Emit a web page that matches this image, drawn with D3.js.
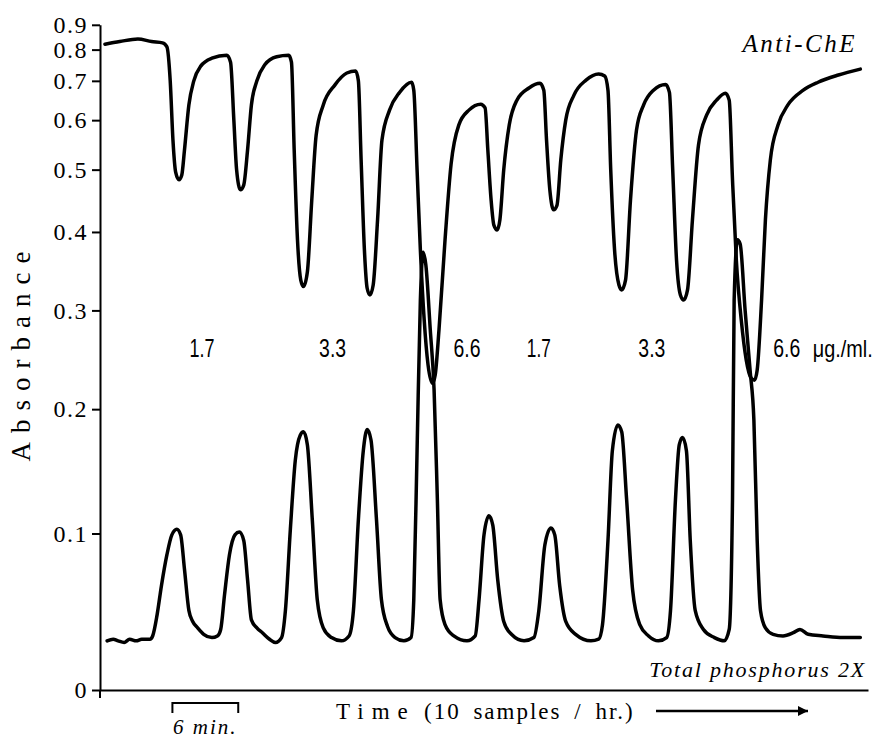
<!DOCTYPE html>
<html>
<head>
<meta charset="utf-8">
<script src="https://cdn.jsdelivr.net/npm/d3@7"></script>
<style>
body { margin: 0; background: #fff; }
svg { display: block; }
</style>
</head>
<body>
<div id="chart"></div>
<script>
var width = 890,
    height = 740;

// [time (min), absorbance]
var antiChE = [
  [0.45,0.82],[1.8,0.83],[3.45,0.84],[4.7,0.83],[5.7,0.825],[6.1,0.81],[6.4,0.70],[6.65,0.557],
  [6.9,0.495],[7.2,0.482],[7.45,0.49],[7.7,0.537],[8.1,0.636],[8.55,0.70],[9.2,0.745],[10.2,0.77],
  [11.55,0.78],[11.9,0.757],[12.2,0.60],[12.45,0.50],[12.8,0.465],[13.1,0.473],[13.45,0.537],
  [13.8,0.636],[14.3,0.70],[15,0.748],[16.1,0.775],[17.2,0.78],[17.45,0.757],[17.7,0.537],
  [18,0.389],[18.3,0.336],[18.55,0.328],[18.9,0.346],[19.3,0.448],[19.7,0.567],[20.35,0.636],
  [21.4,0.688],[22.5,0.723],[23.3,0.729],[23.55,0.70],[23.8,0.518],[24.1,0.375],[24.35,0.326],
  [24.6,0.318],[24.9,0.33],[25.3,0.418],[25.7,0.557],[26.4,0.624],[27.3,0.668],[28.4,0.696],
  [28.6,0.674],[28.9,0.50],[29.2,0.375],[29.55,0.289],[29.9,0.242],[30.3,0.224],[30.55,0.232],
  [30.9,0.279],[31.45,0.389],[32,0.51],[32.7,0.589],[33.65,0.624],[34.7,0.638],[35.1,0.629],
  [35.35,0.537],[35.65,0.448],[35.9,0.41],[36.2,0.403],[36.45,0.418],[36.8,0.50],[37.3,0.589],
  [38,0.648],[39.1,0.68],[40.1,0.693],[40.45,0.674],[40.7,0.557],[41,0.465],[41.35,0.433],
  [41.65,0.44],[42,0.518],[42.45,0.60],[43.2,0.661],[44.3,0.702],[45.45,0.72],[46,0.714],
  [46.3,0.674],[46.55,0.50],[46.9,0.375],[47.3,0.33],[47.55,0.324],[47.9,0.336],[48.35,0.448],
  [48.9,0.578],[49.55,0.636],[50.45,0.674],[51.55,0.69],[51.9,0.668],[52.2,0.50],[52.55,0.361],
  [52.9,0.318],[53.2,0.312],[53.55,0.324],[54,0.418],[54.55,0.547],[55.3,0.612],[56.2,0.648],
  [57,0.666],[57.35,0.648],[57.65,0.482],[58,0.361],[58.45,0.289],[58.9,0.247],[59.35,0.229],
  [59.65,0.227],[59.9,0.237],[60.3,0.312],[60.65,0.418],[61.1,0.518],[61.8,0.589],[62.7,0.636],
  [64.1,0.674],[65.45,0.696],[67.3,0.717],[69.3,0.735]
];

var phosphorus = [
  [0.65,0.029],[1.2,0.030],[1.65,0.029],[2.2,0.028],[2.7,0.030],[3.3,0.029],[3.8,0.030],[4.55,0.030],
  [4.8,0.032],[5.2,0.045],[5.6,0.064],[6.1,0.085],[6.55,0.099],[7,0.103],[7.35,0.099],[7.7,0.075],
  [8.1,0.048],[8.45,0.041],[8.9,0.037],[9.45,0.033],[10.2,0.031],[10.7,0.032],[11,0.036],[11.35,0.058],
  [11.8,0.085],[12.3,0.099],[12.7,0.101],[13.1,0.095],[13.45,0.068],[13.8,0.042],[14.3,0.037],
  [14.8,0.034],[15.45,0.030],[16,0.028],[16.55,0.031],[16.9,0.048],[17.35,0.103],[17.8,0.156],
  [18.25,0.177],[18.55,0.18],[18.9,0.169],[19.35,0.110],[19.8,0.055],[20.35,0.037],[21.1,0.031],
  [22,0.029],[22.7,0.032],[23.1,0.048],[23.55,0.110],[24,0.164],[24.35,0.182],[24.7,0.173],
  [25.2,0.110],[25.65,0.055],[26.2,0.038],[26.9,0.031],[27.7,0.029],[28.35,0.031],[28.6,0.055],
  [28.9,0.164],[29.2,0.312],[29.45,0.372],[29.7,0.355],[30.1,0.279],[30.45,0.218],[30.75,0.125],
  [31,0.055],[31.45,0.039],[32.25,0.032],[33.45,0.029],[34.2,0.032],[34.55,0.055],[35,0.099],
  [35.45,0.113],[35.8,0.106],[36.25,0.068],[36.8,0.041],[37.5,0.033],[38.65,0.029],[39.55,0.031],
  [40,0.048],[40.55,0.092],[41.1,0.104],[41.45,0.099],[41.9,0.064],[42.45,0.041],[43.35,0.033],
  [44.75,0.029],[45.45,0.030],[45.8,0.039],[46.3,0.095],[46.7,0.164],[47.2,0.186],[47.55,0.18],
  [48,0.125],[48.55,0.061],[49.2,0.039],[50,0.032],[50.9,0.029],[51.65,0.031],[52,0.048],
  [52.45,0.125],[52.8,0.169],[53.1,0.175],[53.45,0.164],[53.8,0.095],[54.25,0.048],[55,0.036],
  [56,0.031],[56.9,0.029],[57.35,0.036],[57.65,0.125],[57.8,0.312],[58.1,0.389],[58.35,0.383],
  [58.8,0.30],[59.25,0.237],[59.6,0.19],[59.9,0.095],[60.2,0.048],[60.65,0.037],[61.35,0.033],
  [62.25,0.032],[63.2,0.034],[63.8,0.036],[64.55,0.033],[65.9,0.032],[67.7,0.031],[69.3,0.031]
];

var yTicks = [0, 0.1, 0.2, 0.3, 0.4, 0.5, 0.6, 0.7, 0.8, 0.9];

// dose labels (µg/ml) and the time they sit at
var doseLabels = ["1.7", "3.3", "6.6", "1.7", "3.3", "6.6"];
var doseTimes = [9.3, 21.2, 33.45, 40, 50.3, 62.6];
var doseWidths = [25, 27, 27, 24, 27, 27];
var labelAbs = 0.25;

var scaleBarStart = 6.6,
    scaleBarMinutes = 6;

var serif = "'Liberation Serif', 'DejaVu Serif', serif";
var sans = "'Liberation Sans', Arial, sans-serif";

var svg = d3.select("#chart")
    .append("svg")
    .attr("width", width)
    .attr("height", height)
    .style("background", "#fff");

var x = d3.scaleLinear().domain([0, 70]).range([100, 868]);

// absorbance axis is linear in transmittance (A = -log10 T)
var tScale = d3.scaleLinear().domain([1, 0]).range([690, 690 - 761]);
var absGrid = d3.range(0, 0.9001, 0.005);
var y = d3.scaleLinear()
    .domain(absGrid)
    .range(absGrid.map(function(a) { return tScale(Math.pow(10, -a)); }));

// y axis
var yAxis = svg.append("g")
    .attr("transform", "translate(100,0)")
    .call(d3.axisLeft(y)
        .tickValues(yTicks)
        .tickSize(8)
        .tickSizeOuter(0)
        .tickPadding(4)
        .tickFormat(function(d) { return d === 0 ? "0" : d3.format(".1f")(d); }))
    .attr("font-family", serif)
    .attr("font-size", 24);
yAxis.select(".domain").attr("stroke", "#000").attr("stroke-width", 2);
yAxis.selectAll(".tick line").attr("stroke", "#000").attr("stroke-width", 2);
yAxis.selectAll(".tick text")
    .attr("fill", "#000")
    .style("font-family", serif)
    .style("font-size", "24px")
    .style("letter-spacing", "1.5px");

// x axis (no ticks)
var xAxis = svg.append("g")
    .attr("transform", "translate(0,690)")
    .call(d3.axisBottom(x).tickValues([]).tickSizeOuter(0));
xAxis.select(".domain").attr("stroke", "#000").attr("stroke-width", 2);

svg.append("line")
    .attr("x1", 100).attr("x2", 100)
    .attr("y1", 690).attr("y2", 698)
    .attr("stroke", "#000").attr("stroke-width", 2);

// traces
var line = d3.line()
    .x(function(d) { return x(d[0]); })
    .y(function(d) { return y(d[1]); })
    .curve(d3.curveMonotoneX);

svg.selectAll("path.trace")
    .data([antiChE, phosphorus])
    .enter().append("path")
    .attr("class", "trace")
    .attr("d", line)
    .attr("fill", "none")
    .attr("stroke", "#000")
    .attr("stroke-width", 3.5)
    .attr("stroke-linejoin", "round")
    .attr("stroke-linecap", "round");

// dose labels
svg.selectAll("text.dose")
    .data(doseLabels)
    .enter().append("text")
    .attr("class", "dose")
    .attr("x", function(d, i) { return x(doseTimes[i]); })
    .attr("y", y(labelAbs))
    .attr("text-anchor", "middle")
    .attr("textLength", function(d, i) { return doseWidths[i]; })
    .attr("lengthAdjust", "spacingAndGlyphs")
    .style("font-family", sans)
    .style("font-size", "25px")
    .text(function(d) { return d; });

svg.append("text")
    .attr("x", x(doseTimes[5]) + 26)
    .attr("y", y(labelAbs))
    .attr("textLength", 60)
    .attr("lengthAdjust", "spacingAndGlyphs")
    .style("font-family", sans)
    .style("font-size", "24px")
    .text("\u03BCg./ml.");

// curve names
svg.append("text")
    .attr("x", 857)
    .attr("y", 52)
    .attr("text-anchor", "end")
    .style("font-family", serif)
    .style("font-style", "italic")
    .style("font-size", "25px")
    .style("letter-spacing", "2.5px")
    .text("Anti-ChE");

svg.append("text")
    .attr("x", 866)
    .attr("y", 677)
    .attr("text-anchor", "end")
    .style("font-family", serif)
    .style("font-style", "italic")
    .style("font-size", "22px")
    .style("letter-spacing", "1.8px")
    .text("Total phosphorus 2X");

// y title
svg.append("text")
    .attr("transform", "translate(30,352) rotate(-90)")
    .attr("text-anchor", "middle")
    .style("font-family", serif)
    .style("font-size", "27px")
    .style("letter-spacing", "9px")
    .text("Absorbance");

// x title with arrow
svg.append("text")
    .attr("x", 336)
    .attr("y", 719)
    .style("font-family", serif)
    .style("font-size", "23px")
    .style("letter-spacing", "8px")
    .text("Time");

svg.append("text")
    .attr("x", 424)
    .attr("y", 719)
    .style("font-family", serif)
    .style("font-size", "23px")
    .style("letter-spacing", "2px")
    .style("word-spacing", "5px")
    .text("(10 samples / hr.)");

svg.append("defs").append("marker")
    .attr("id", "arrow")
    .attr("viewBox", "0 -5 10 10")
    .attr("refX", 10)
    .attr("refY", 0)
    .attr("markerWidth", 6)
    .attr("markerHeight", 4)
    .attr("markerUnits", "strokeWidth")
    .attr("orient", "auto")
    .append("path")
    .attr("d", "M0,-5L10,0L0,5Z")
    .attr("fill", "#000");

svg.append("line")
    .attr("x1", 656).attr("x2", 808)
    .attr("y1", 711).attr("y2", 711)
    .attr("stroke", "#000")
    .attr("stroke-width", 2.5)
    .attr("marker-end", "url(#arrow)");

// 6 min scale bar
var bx0 = x(scaleBarStart),
    bx1 = x(scaleBarStart + scaleBarMinutes);
svg.append("path")
    .attr("d", "M" + bx0 + ",713V703H" + bx1 + "V713")
    .attr("fill", "none")
    .attr("stroke", "#000")
    .attr("stroke-width", 2);

svg.append("text")
    .attr("x", (bx0 + bx1) / 2)
    .attr("y", 734)
    .attr("text-anchor", "middle")
    .style("font-family", serif)
    .style("font-style", "italic")
    .style("font-size", "21px")
    .style("letter-spacing", "2px")
    .text("6 min.");
</script>
</body>
</html>
